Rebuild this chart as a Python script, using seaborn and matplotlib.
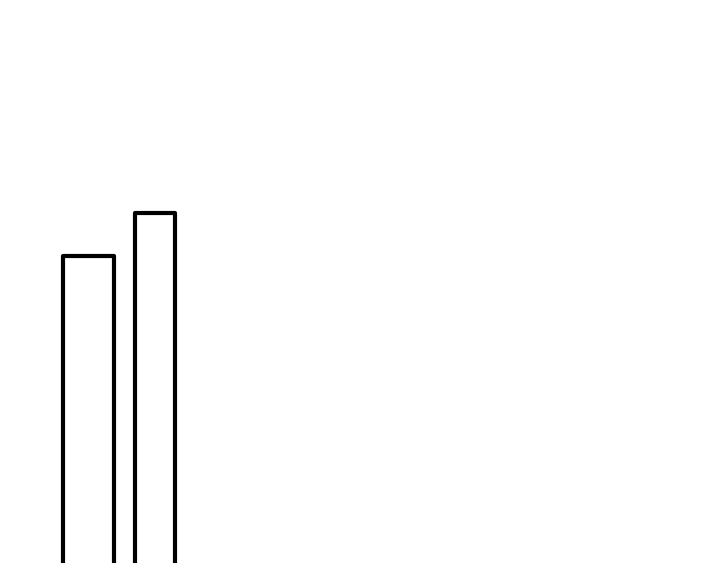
import matplotlib
matplotlib.use("Agg")
import matplotlib.pyplot as plt
import seaborn as sns

# bar data (pixel-like data units, y measured up from the bar base)
centers = [88.5, 155.0]
widths = [51.0, 40.0]
values = [315.0, 358.0]

sns.set_style("white")

fig = plt.figure(figsize=(7.2, 5.63), dpi=100)
ax = fig.add_axes([0, 0, 1, 1])

sns.barplot(x=centers, y=values, native_scale=True, ax=ax,
            color="white", edgecolor="black", linewidth=3.0, errorbar=None)

for patch, c, w in zip(ax.patches, centers, widths):
    patch.set_x(c - w / 2)
    patch.set_width(w)
    patch.set_joinstyle("round")

ax.set_xlim(0, 720)
ax.set_ylim(8, 571)
ax.axis("off")

fig.savefig("out.png", dpi=100)
